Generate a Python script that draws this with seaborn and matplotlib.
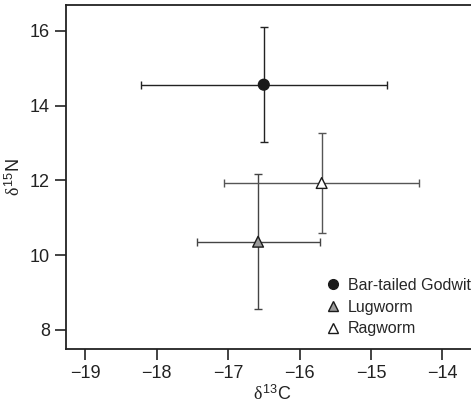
import matplotlib
matplotlib.use("Agg")
import matplotlib.pyplot as plt
import pandas as pd
import seaborn as sns

sns.set_style('ticks')
plt.rcParams['font.family'] = ['Liberation Sans', 'DejaVu Sans']
# upright serif delta, sans digits
plt.rcParams['mathtext.fontset'] = 'custom'
plt.rcParams['mathtext.rm'] = 'Liberation Sans'
plt.rcParams['mathtext.it'] = 'Liberation Serif'
plt.rcParams['mathtext.sf'] = 'Liberation Sans'

# data
species = ['Bar-tailed Godwit', 'Lugworm', 'Ragworm']
d13c = [-16.50, -16.58, -15.69]
d15n = [14.56, 10.36, 11.93]
d13c_err = [1.72, 0.86, 1.37]
d15n_err = [1.54, 1.80, 1.35]

df = pd.DataFrame({'species': species, 'd13C': d13c, 'd15N': d15n,
                   'xerr': d13c_err, 'yerr': d15n_err})

face = {'Bar-tailed Godwit': '#1a1a1a', 'Lugworm': '#9a9a9a', 'Ragworm': 'white'}
marks = {'Bar-tailed Godwit': 'o', 'Lugworm': '^', 'Ragworm': '^'}
bar_col = {'Bar-tailed Godwit': '#222222', 'Lugworm': '#444444', 'Ragworm': '#555555'}

fig = plt.figure(figsize=(4.71, 4.08), dpi=100)
ax = fig.add_axes([0.140, 0.1446, 0.875, 0.843])

for _, r in df.iterrows():
    ax.errorbar(r['d13C'], r['d15N'], xerr=r['xerr'], yerr=r['yerr'], fmt='none',
                ecolor=bar_col[r['species']], elinewidth=1.0, capsize=3, capthick=1.0, zorder=2)

sns.scatterplot(data=df, x='d13C', y='d15N', hue='species', style='species',
                palette=face, markers=marks, s=60, edgecolor='#1a1a1a', linewidth=1.0,
                ax=ax, zorder=3, legend=False)

handles = [plt.Line2D([], [], ls='none', marker=marks[s], markersize=7,
                      markerfacecolor=face[s], markeredgecolor='#1a1a1a', markeredgewidth=1.0)
           for s in species]
ax.legend(handles, species, loc='lower left', bbox_to_anchor=(0.59, -0.005), frameon=False,
          fontsize=11.5, handletextpad=0.35, labelspacing=0.42, handlelength=1.2)

ax.set_xlim(-19.27, -13.5)
ax.set_ylim(7.49, 16.69)
ax.set_xticks([-19, -18, -17, -16, -15, -14])
ax.set_yticks([8, 10, 12, 14, 16])
ax.set_xticklabels(['\u221219', '\u221218', '\u221217', '\u221216', '\u221215', '\u221214'])
ax.tick_params(labelsize=13, length=8, width=1.2, color='#222222', labelcolor='#222222')
for s in ['left', 'bottom', 'top']:
    ax.spines[s].set_linewidth(1.3)
    ax.spines[s].set_color('#222222')
ax.spines['right'].set_visible(False)

ax.set_xlabel(r'$\delta^{13}$C', fontsize=13, color='#222222', labelpad=2)
ax.set_ylabel(r'$\delta^{15}$N', fontsize=13, color='#222222', labelpad=4)

fig.savefig('out.png', dpi=100)
